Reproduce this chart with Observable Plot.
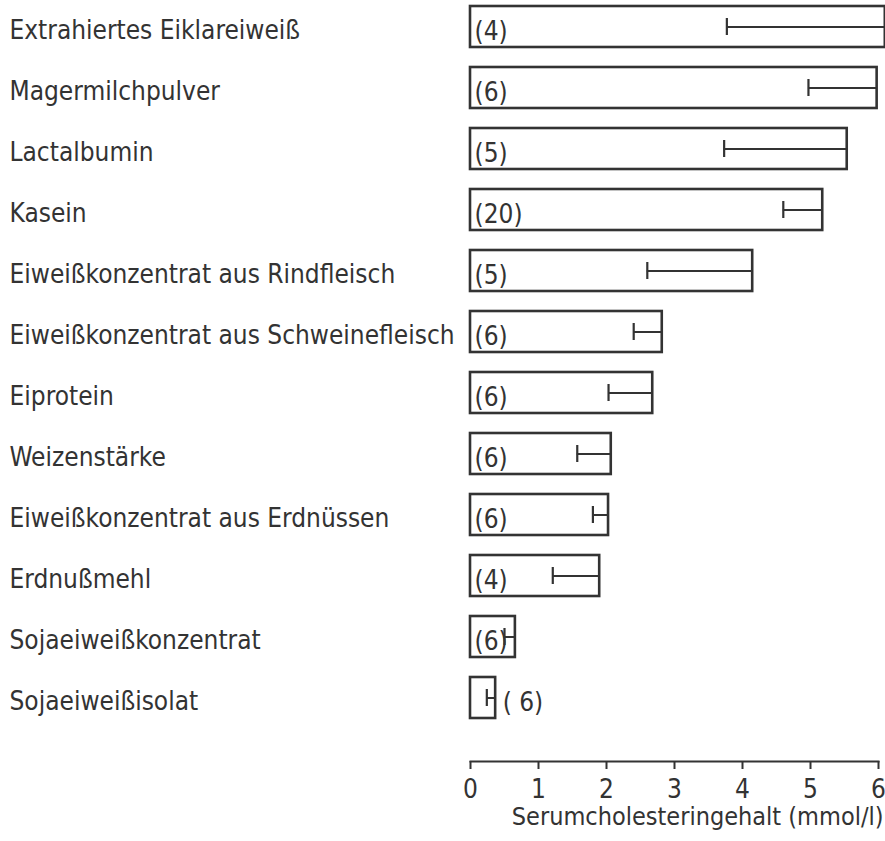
<!DOCTYPE html>
<html>
<head>
<meta charset="utf-8">
<script src="https://cdn.jsdelivr.net/npm/d3@7"></script>
<script src="https://cdn.jsdelivr.net/npm/@observablehq/plot@0.6"></script>
<style>
  html, body { margin: 0; padding: 0; background: #fff; }
  svg { display: block; }
</style>
</head>
<body>
<div id="chart"></div>
<script>
const categories = [
  "Extrahiertes Eiklareiweiß",
  "Magermilchpulver",
  "Lactalbumin",
  "Kasein",
  "Eiweißkonzentrat aus Rindfleisch",
  "Eiweißkonzentrat aus Schweinefleisch",
  "Eiprotein",
  "Weizenstärke",
  "Eiweißkonzentrat aus Erdnüssen",
  "Erdnußmehl",
  "Sojaeiweißkonzentrat",
  "Sojaeiweißisolat"
];
const means = [6.1, 5.98, 5.54, 5.18, 4.15, 2.82, 2.68, 2.07, 2.03, 1.90, 0.66, 0.37];
const sds   = [2.33, 1.01, 1.81, 0.58, 1.55, 0.42, 0.65, 0.50, 0.23, 0.69, 0.16, 0.13];
const nLabels = ["(4)", "(6)", "(5)", "(20)", "(5)", "(6)", "(6)", "(6)", "(6)", "(4)", "(6)", "( 6)"];
const xTicks = [0, 1, 2, 3, 4, 5, 6];
const xTitle = "Serumcholesteringehalt (mmol/l)";

const data = categories.map((c, i) => ({
  name: c, mean: means[i], lo: means[i] - sds[i], n: nLabels[i], outside: means[i] < 0.5
}));

const ink = "#333";
const font = "'DejaVu Sans Condensed', 'Liberation Sans Narrow', 'DejaVu Sans', sans-serif";

const chart = Plot.plot({
  width: 885,
  height: 841,
  marginLeft: 470,
  marginRight: 7,
  marginTop: 0,
  marginBottom: 80,
  style: {fontFamily: font, color: ink, background: "#fff"},
  x: {domain: [0, 6], clamp: false},
  y: {domain: categories, range: [-17, 740], padding: 0.33, axis: null},
  marks: [
    Plot.barX(data, {y: "name", x1: 0, x2: "mean", fill: "#fff", stroke: ink, strokeWidth: 2.6}),
    Plot.ruleY(data, {y: "name", x1: "lo", x2: "mean", stroke: ink, strokeWidth: 2}),
    Plot.tickX(data, {y: "name", x: "lo", stroke: ink, strokeWidth: 2.2, insetTop: 12, insetBottom: 12}),
    Plot.text(data.filter(d => !d.outside), {y: "name", x: 0, text: "n", textAnchor: "start", dx: 4, dy: 5, fontSize: 26, fill: ink}),
    Plot.text(data.filter(d => d.outside), {y: "name", x: "mean", text: "n", textAnchor: "start", dx: 7, dy: 5, fontSize: 26, fill: ink}),
    Plot.text(data, {y: "name", text: "name", frameAnchor: "left", textAnchor: "start", dx: -461, dy: 4, fontSize: 26, fill: ink}),
    Plot.frame({anchor: "bottom", stroke: ink, strokeWidth: 2}),
    Plot.axisX({ticks: xTicks, tickSize: 8, tickPadding: 10, tickFormat: d3.format("d"), fontSize: 26, label: null, stroke: ink, strokeWidth: 2}),
    Plot.text([xTitle], {frameAnchor: "bottom-right", textAnchor: "end", dx: 5, dy: 63, fontSize: 25, fill: ink})
  ]
});
document.getElementById("chart").appendChild(chart);
</script>
</body>
</html>
